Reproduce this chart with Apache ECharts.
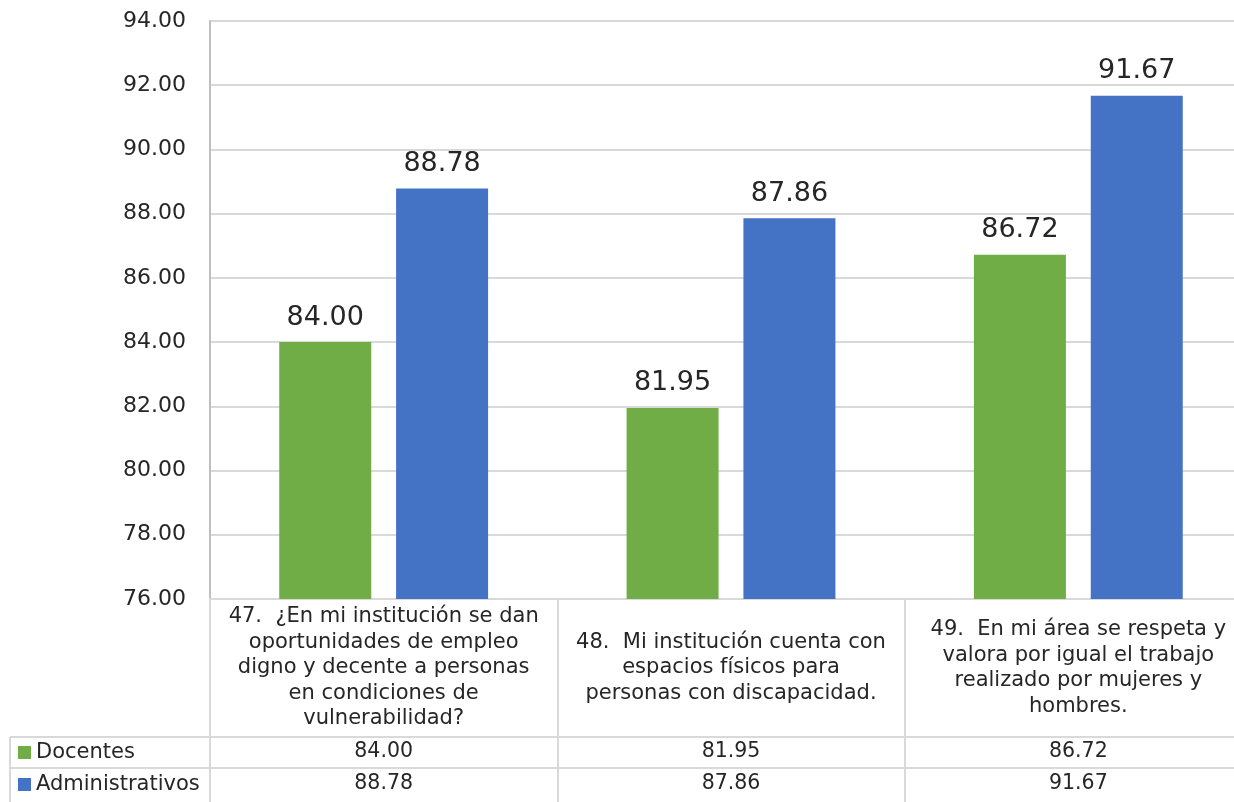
<!DOCTYPE html>
<html>
<head>
<meta charset="utf-8">
<title>Docentes vs Administrativos</title>
<script src="https://cdn.jsdelivr.net/npm/echarts@6/dist/echarts.min.js"></script>
<style>
  html, body { margin: 0; padding: 0; background: #fff; overflow: hidden; }
  /* the plot runs a little past the right edge of the window, as in the original */
  #chart { width: 1270px; height: 802px; }
</style>
</head>
<body>
<div id="chart"></div>
<script>
// data
const categories = [
  '47.  ¿En mi institución se dan\noportunidades de empleo\ndigno y decente a personas\nen condiciones de\nvulnerabilidad?',
  '48.  Mi institución cuenta con\nespacios físicos para\npersonas con discapacidad.',
  '49.  En mi área se respeta y\nvalora por igual el trabajo\nrealizado por mujeres y\nhombres.'
]
const docentes = [84.00, 81.95, 86.72]
const administrativos = [88.78, 87.86, 91.67]
const seriesNames = ['Docentes', 'Administrativos']

const FONT = '"DejaVu Sans", sans-serif'
const TXT = '#262626'
const LINE = '#d9d9d9'

const fmt = v => Number(v).toFixed(2)

const chart = echarts.init(document.getElementById('chart'))

const barLabel = {
  show: true,
  position: 'top',
  distance: 11,
  fontFamily: FONT,
  fontSize: 27,
  color: TXT,
  formatter: p => fmt(p.value)
}

const Options = {
  backgroundColor: '#fff',
  animation: false,
  textStyle: { fontFamily: FONT },
  grid: {
    left: 210,
    top: 21,
    width: 1042,
    height: 578
  },
  legend: {
    orient: 'vertical',
    left: 18,
    top: 742,
    padding: 0,
    selectedMode: false,
    itemWidth: 13,
    itemHeight: 13,
    itemGap: 11,
    icon: 'rect',
    textStyle: { fontFamily: FONT, fontSize: 21, color: TXT, lineHeight: 21 },
    data: seriesNames
  },
  xAxis: [
    {
      type: 'category',
      data: categories,
      position: 'bottom',
      axisLine: { show: true, lineStyle: { color: LINE, width: 2 } },
      axisTick: { show: true, length: 203, lineStyle: { color: LINE, width: 2 } },
      axisLabel: {
        interval: 0,
        margin: 69,
        verticalAlign: 'middle',
        fontFamily: FONT,
        fontSize: 21,
        lineHeight: 25.5,
        color: TXT,
        align: 'center'
      },
      splitLine: { show: false }
    },
    {
      type: 'category',
      data: docentes.map(fmt),
      position: 'bottom',
      offset: 138,
      axisLine: { show: true, lineStyle: { color: LINE, width: 2 } },
      axisTick: { show: false },
      axisLabel: { interval: 0, margin: 15, verticalAlign: 'middle', fontFamily: FONT, fontSize: 20.5, color: TXT }
    },
    {
      type: 'category',
      data: administrativos.map(fmt),
      position: 'bottom',
      offset: 169,
      axisLine: { show: true, lineStyle: { color: LINE, width: 2 } },
      axisTick: { show: false },
      axisLabel: { interval: 0, margin: 16, verticalAlign: 'middle', fontFamily: FONT, fontSize: 20.5, color: TXT }
    }
  ],
  yAxis: {
    type: 'value',
    min: 76,
    max: 94,
    interval: 2,
    axisLine: { show: true, lineStyle: { color: '#bfbfbf', width: 2 } },
    axisTick: { show: false },
    axisLabel: {
      formatter: v => fmt(v),
      fontFamily: FONT,
      fontSize: 22,
      color: TXT,
      margin: 24
    },
    splitLine: { show: true, lineStyle: { color: LINE, width: 2 } }
  },
  series: [
    {
      name: seriesNames[0],
      type: 'bar',
      barWidth: 92,
      barGap: '27%',
      itemStyle: { color: '#70ad47' },
      label: barLabel,
      data: docentes
    },
    {
      name: seriesNames[1],
      type: 'bar',
      barWidth: 92,
      barGap: '27%',
      itemStyle: { color: '#4472c4' },
      label: barLabel,
      data: administrativos
    }
  ],
  // borders of the legend column of the data table
  graphic: [
    { type: 'line', shape: { x1: 10, y1: 737, x2: 210, y2: 737 }, style: { stroke: LINE, lineWidth: 2 } },
    { type: 'line', shape: { x1: 10, y1: 768, x2: 210, y2: 768 }, style: { stroke: LINE, lineWidth: 2 } },
    { type: 'line', shape: { x1: 10, y1: 737, x2: 10, y2: 802 }, style: { stroke: LINE, lineWidth: 2 } }
  ]
}

chart.setOption(Options)
</script>
</body>
</html>
